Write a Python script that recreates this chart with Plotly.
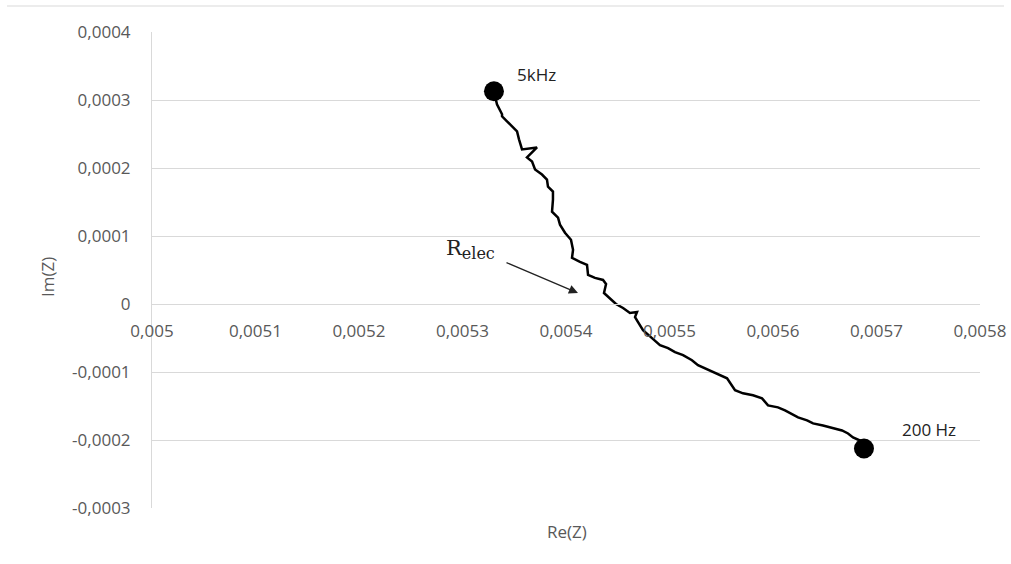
import plotly.graph_objects as go

# Nyquist path (Re(Z), Im(Z))
re_z = [0.0053304, 0.0053333, 0.0053382, 0.0053382, 0.0053430, 0.0053478, 0.0053527,
        0.0053546, 0.0053575, 0.0053720, 0.0053623, 0.0053672, 0.0053701, 0.0053768,
        0.0053816, 0.0053826, 0.0053874, 0.0053874, 0.0053865, 0.0053923, 0.0053942,
        0.0053990, 0.0054048, 0.0054068, 0.0054058, 0.0054135, 0.0054203, 0.0054213,
        0.0054280, 0.0054358, 0.0054387, 0.0054367, 0.0054416, 0.0054483, 0.0054551,
        0.0054618, 0.0054686, 0.0054667, 0.0054696, 0.0054744, 0.0054831, 0.0054908,
        0.0054986, 0.0055053, 0.0055131, 0.0055217, 0.0055275, 0.0055343, 0.0055391,
        0.0055488, 0.0055556, 0.0055633, 0.0055710, 0.0055807, 0.0055894, 0.0055952,
        0.0056048, 0.0056116, 0.0056164, 0.0056242, 0.0056329, 0.0056387, 0.0056483,
        0.0056580, 0.0056667, 0.0056725, 0.0056773, 0.0056841, 0.0056879]
im_z = [0.0003129, 0.0002937, 0.0002790, 0.0002760, 0.0002686, 0.0002613, 0.0002539,
        0.0002421, 0.0002273, 0.0002303, 0.0002155, 0.0002096, 0.0001978, 0.0001904,
        0.0001830, 0.0001727, 0.0001653, 0.0001535, 0.0001358, 0.0001269, 0.0001166,
        0.0001048, 0.0000945, 0.0000797, 0.0000679, 0.0000620, 0.0000576, 0.0000428,
        0.0000384, 0.0000354, 0.0000295, 0.0000162, 0.0000089, 0.0000000, -0.0000059,
        -0.0000133, -0.0000118, -0.0000192, -0.0000266, -0.0000384, -0.0000502, -0.0000605,
        -0.0000649, -0.0000708, -0.0000753, -0.0000827, -0.0000900, -0.0000945, -0.0000974,
        -0.0001048, -0.0001092, -0.0001269, -0.0001314, -0.0001343, -0.0001387, -0.0001491,
        -0.0001520, -0.0001565, -0.0001609, -0.0001668, -0.0001712, -0.0001756, -0.0001786,
        -0.0001830, -0.0001860, -0.0001904, -0.0001963, -0.0002007, -0.0002125]

x_tickvals = [0.005, 0.0051, 0.0052, 0.0053, 0.0054, 0.0055, 0.0056, 0.0057, 0.0058]
x_ticktext = ["0,005", "0,0051", "0,0052", "0,0053", "0,0054", "0,0055", "0,0056", "0,0057", "0,0058"]
y_tickvals = [-0.0003, -0.0002, -0.0001, 0, 0.0001, 0.0002, 0.0003, 0.0004]
y_ticktext = ["-0,0003", "-0,0002", "-0,0001", "0", "0,0001", "0,0002", "0,0003", "0,0004"]

start_label = "5kHz"
end_label = "200 Hz"
arrow_label = "R<sub><span style='font-size:16px'>elec</span></sub>"
relec_text_pos = (0.0052821, 0.0000797)
relec_arrow_head = (0.0054116, 0.0000162)

GRID = "#d9d9d9"
TXT = "#595959"
FONT = "Open Sans"

L, T, PW, PH = 152, 32, 828, 476
W, H = 1011, 564

fig = go.Figure()
fig.add_trace(go.Scatter(x=re_z, y=im_z, mode="lines",
                         line=dict(color="black", width=2.5), hoverinfo="skip"))
fig.add_trace(go.Scatter(x=[re_z[0], re_z[-1]], y=[im_z[0], im_z[-1]], mode="markers",
                         marker=dict(color="black", size=20), hoverinfo="skip"))

fig.add_annotation(x=re_z[0], y=im_z[0], text=start_label, showarrow=False,
                   xshift=43, yshift=17, font=dict(family=FONT, size=17, color="#222"))
fig.add_annotation(x=re_z[-1], y=im_z[-1], text=end_label, showarrow=False,
                   xshift=65, yshift=19, font=dict(family=FONT, size=17, color="#222"))
fig.add_annotation(x=relec_text_pos[0], y=relec_text_pos[1], text=arrow_label, showarrow=False,
                   xanchor="left", yanchor="middle",
                   font=dict(family="DejaVu Serif", size=21, color="#222"))
fig.add_annotation(x=relec_arrow_head[0], y=relec_arrow_head[1], text="", showarrow=True,
                   ax=-73, ay=-31, arrowhead=2, arrowsize=1.4, arrowwidth=1.3,
                   arrowcolor="#222")

fig.add_annotation(xref="paper", yref="paper", x=(47 - L) / PW, y=(T + PH - 277) / PH,
                   xanchor="center", yanchor="middle",
                   text="Im(Z)", textangle=-90, showarrow=False,
                   font=dict(family=FONT, size=17, color=TXT))
fig.add_annotation(xref="paper", yref="paper", x=(567 - L) / PW, y=(T + PH - 531) / PH,
                   xanchor="center", yanchor="middle",
                   text="Re(Z)", showarrow=False,
                   font=dict(family=FONT, size=17, color=TXT))

fig.add_shape(type="line", xref="paper", yref="paper",
              x0=(7 - L) / PW, x1=(1004 - L) / PW,
              y0=(T + PH - 6) / PH, y1=(T + PH - 6) / PH,
              line=dict(color=GRID, width=1))

fig.update_layout(
    width=W, height=H,
    margin=dict(l=L, r=W - L - PW, t=T, b=H - T - PH, autoexpand=False),
    paper_bgcolor="white", plot_bgcolor="white",
    showlegend=False,
    font=dict(family=FONT, size=17, color=TXT),
    xaxis=dict(range=[0.005, 0.0058], tickvals=x_tickvals, ticktext=x_ticktext,
               anchor="free", position=3 / 7, showgrid=False, zeroline=False,
               showline=True, linecolor=GRID, linewidth=1, ticks="",
               ticklabelstandoff=12, tickfont=dict(family=FONT, size=17, color=TXT)),
    yaxis=dict(range=[-0.0003, 0.0004], tickvals=y_tickvals, ticktext=y_ticktext,
               showgrid=True, gridcolor=GRID, gridwidth=1, zeroline=False,
               showline=True, linecolor=GRID, linewidth=1, ticks="",
               ticklabelstandoff=17, tickfont=dict(family=FONT, size=17, color=TXT)),
)

fig.write_html("out.html", config={"displayModeBar": False},
               post_script="document.body.style.margin='0';document.body.style.overflow='hidden';")
